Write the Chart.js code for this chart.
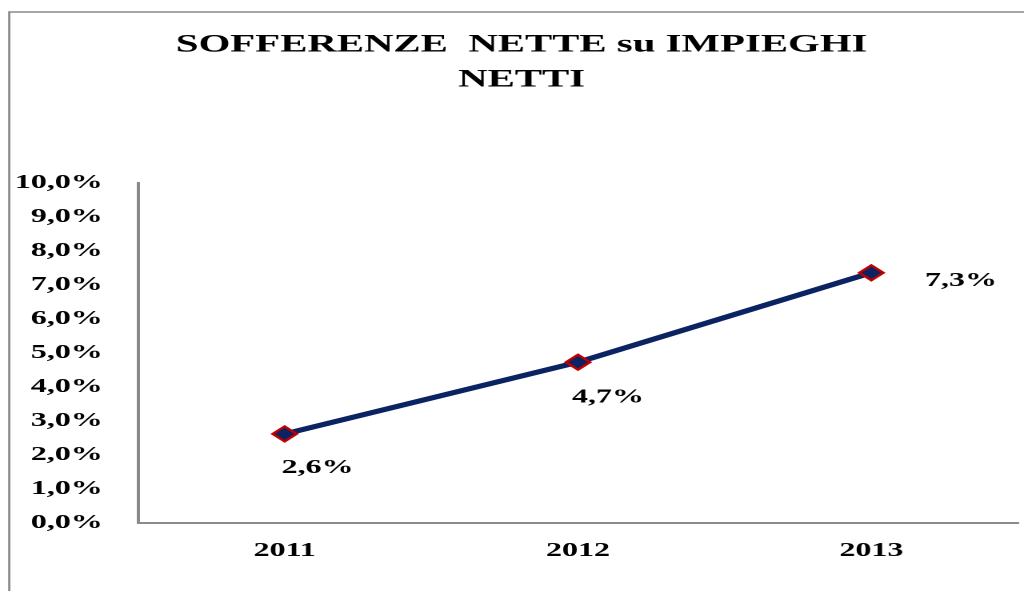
<!DOCTYPE html>
<html>
<head>
<meta charset="utf-8">
<script src="https://cdn.jsdelivr.net/npm/chart.js@4/dist/chart.umd.min.js"></script>
<style>
  html, body { margin: 0; padding: 0; background: #fff; overflow: hidden; }
  #wrap { width: 640px; height: 591px; transform: scaleX(1.6); transform-origin: 0 0; }
</style>
</head>
<body>
<div id="wrap"><canvas id="c" width="640" height="591"></canvas></div>
<script>
const categories = ['2011', '2012', '2013'];
const values = [2.62, 4.73, 7.36];
const valueLabels = ['2,6%', '4,7%', '7,3%'];
const titleLines = ['SOFFERENZE  NETTE su IMPIEGHI', 'NETTI'];
const yMin = 0, yMax = 10, yStep = 1;

// label placement (canvas units, relative to the point)
const labelOffsets = [[20.6, 34], [18.8, 35], [56, 8]];

const FONT = "'Liberation Serif', 'Times New Roman', serif";

const framePlugin = {
  id: 'frame',
  beforeDraw(chart) {
    const ctx = chart.ctx;
    ctx.save();
    ctx.fillStyle = '#ffffff';
    ctx.fillRect(0, 0, chart.width, chart.height);
    ctx.strokeStyle = '#8a8a8a';
    ctx.lineWidth = 1.4;
    ctx.beginPath();
    ctx.moveTo(5.8, chart.height + 5);
    ctx.lineTo(5.8, 12);
    ctx.lineTo(chart.width + 5, 12);
    ctx.stroke();
    ctx.restore();
  }
};

const valueLabelPlugin = {
  id: 'valueLabels',
  afterDatasetsDraw(chart) {
    const ctx = chart.ctx;
    const meta = chart.getDatasetMeta(0);
    ctx.save();
    ctx.font = '700 20px ' + FONT;
    ctx.fillStyle = '#000000';
    ctx.textAlign = 'center';
    ctx.textBaseline = 'middle';
    meta.data.forEach((pt, i) => {
      const off = labelOffsets[i];
      ctx.fillText(valueLabels[i], pt.x + off[0], pt.y + off[1]);
    });
    ctx.restore();
  }
};

new Chart(document.getElementById('c'), {
  type: 'line',
  data: {
    labels: categories,
    datasets: [{
      data: values,
      borderColor: '#0b2263',
      borderWidth: 5,
      backgroundColor: '#0b2263',
      pointStyle: 'rectRot',
      pointRadius: 7.5,
      pointHoverRadius: 7.5,
      pointBackgroundColor: '#0b2263',
      pointBorderColor: '#c00000',
      pointBorderWidth: 2,
      tension: 0,
      fill: false
    }]
  },
  options: {
    responsive: false,
    animation: false,
    devicePixelRatio: 2,
    layout: { autoPadding: false, padding: { left: 6, right: -6, top: 0, bottom: 0 } },
    plugins: {
      legend: { display: false },
      tooltip: { enabled: false },
      title: {
        display: true,
        text: titleLines,
        color: '#000000',
        font: { family: FONT, size: 25.5, weight: '700', lineHeight: 1.373 },
        padding: { top: 27.5, bottom: 85.5 }
      }
    },
    scales: {
      x: {
        type: 'category',
        offset: true,
        grid: { display: false, drawTicks: false },
        border: { display: true, color: '#8a8a8a', width: 2 },
        ticks: { color: '#000000', padding: 16, font: { family: FONT, size: 20, weight: '700' } },
        afterFit(s) { s.height = 68; s.paddingLeft = 0; s.paddingRight = 0; }
      },
      y: {
        min: yMin, max: yMax,
        grid: { display: false, drawTicks: false },
        border: { display: true, color: '#8a8a8a', width: 2 },
        ticks: {
          stepSize: yStep,
          color: '#000000',
          padding: 22,
          font: { family: FONT, size: 20, weight: '700' },
          callback: v => v.toFixed(1).replace('.', ',') + '%'
        },
        afterFit(s) { s.width = 80.25; }
      },
      y2: {
        position: 'right',
        display: true,
        grid: { display: false, drawTicks: false },
        border: { display: false },
        ticks: { display: false },
        afterFit(s) { s.width = 9.75; }
      }
    }
  },
  plugins: [framePlugin, valueLabelPlugin]
});
</script>
</body>
</html>
